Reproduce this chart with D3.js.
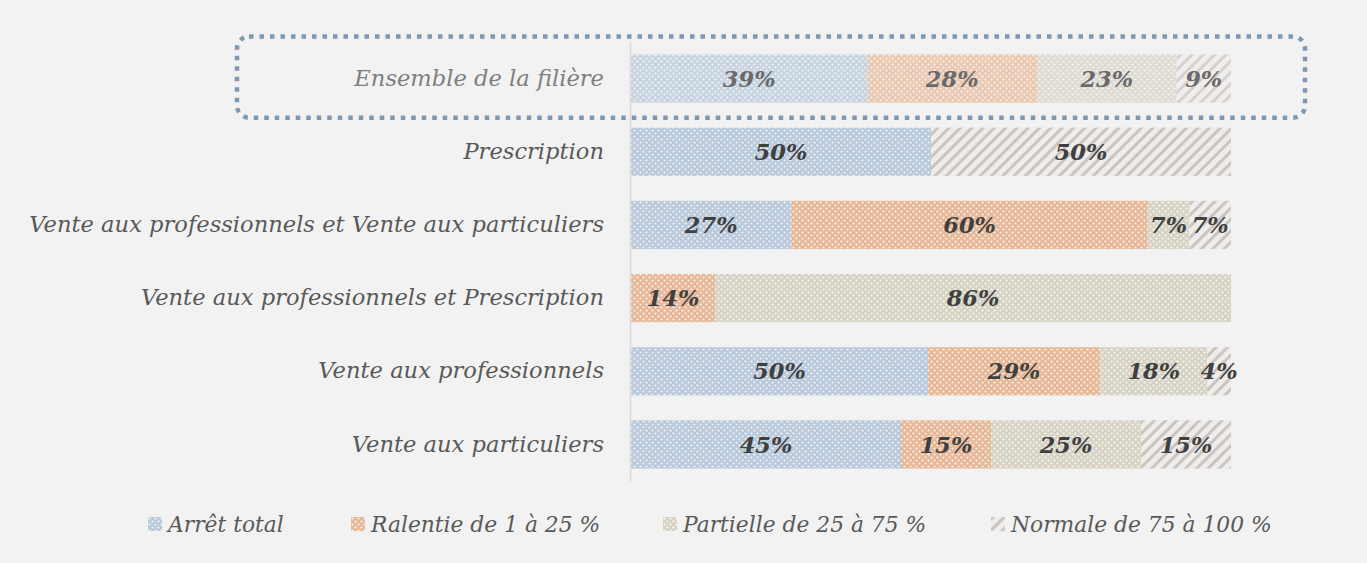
<!DOCTYPE html>
<html>
<head>
<meta charset="utf-8">
<script src="https://cdn.jsdelivr.net/npm/d3@7/dist/d3.min.js"></script>
<style>
  html, body { margin: 0; padding: 0; background: #f2f2f2; }
  svg { display: block; }
  .cat text { font-family: "DejaVu Serif", serif; font-style: italic; }
</style>
</head>
<body>
<svg id="chart" width="1367" height="563"></svg>
<script>
// categories, top to bottom
var categories = [
    'Ensemble de la filière',
    'Prescription',
    'Vente aux professionnels et Vente aux particuliers',
    'Vente aux professionnels et Prescription',
    'Vente aux professionnels',
    'Vente aux particuliers'
];

var seriesNames = ['Arrêt total', 'Ralentie de 1 à 25 %', 'Partielle de 25 à 75 %', 'Normale de 75 à 100 %'];

// percentages, one array per series
var arretTotal = [39, 50, 27, 0, 50, 45];
var ralentie   = [28, 0, 60, 14, 29, 15];
var partielle  = [23, 0, 7, 86, 18, 25];
var normale    = [9, 50, 7, 0, 4, 15];

var seriesKeys = ['arret', 'ralentie', 'partielle', 'normale'];

var rows = categories.map(function(c, i) {
    return {
        cat: c,
        arret: arretTotal[i],
        ralentie: ralentie[i],
        partielle: partielle[i],
        normale: normale[i]
    };
});

var svg = d3.select('svg#chart');
var defs = svg.append('defs');

// fill patterns: dotted grids + diagonal stripes
var dotColors = { arret: '#b9c9db', ralentie: '#e7b898', partielle: '#d6d3c5' };
Object.keys(dotColors).forEach(function(k) {
    var p = defs.append('pattern')
        .attr('id', 'pat-' + k)
        .attr('patternUnits', 'userSpaceOnUse')
        .attr('width', 6).attr('height', 6);
    p.append('rect').attr('width', 6).attr('height', 6).attr('fill', dotColors[k]);
    p.append('circle').attr('cx', 1.5).attr('cy', 1.5).attr('r', 1.1).attr('fill', '#fff').attr('opacity', 0.8);
    p.append('circle').attr('cx', 4.5).attr('cy', 4.5).attr('r', 1.1).attr('fill', '#fff').attr('opacity', 0.8);
});
var stripe = defs.append('pattern')
    .attr('id', 'pat-normale')
    .attr('patternUnits', 'userSpaceOnUse')
    .attr('width', 8).attr('height', 8)
    .attr('patternTransform', 'rotate(45)');
stripe.append('rect').attr('width', 8).attr('height', 8).attr('fill', '#efedeb');
stripe.append('rect').attr('width', 3).attr('height', 8).attr('fill', '#cbc4c0');

var x = d3.scaleLinear().domain([0, 1]).range([631, 1231]);
var y = d3.scaleBand().domain(categories).range([42, 481])
    .paddingInner(0.34).paddingOuter(0.17);

var stack = d3.stack().keys(seriesKeys).offset(d3.stackOffsetExpand);
var stacked = stack(rows);

// highlight box round the first row
svg.append('rect')
    .attr('x', 237).attr('y', y(categories[0]) - 18)
    .attr('width', 1305 - 237).attr('height', y.bandwidth() + 33)
    .attr('rx', 12)
    .attr('fill', 'none')
    .attr('stroke', '#7f98b0')
    .attr('stroke-width', 4.5)
    .attr('stroke-dasharray', '4.5 6');

var layer = svg.append('g').selectAll('g.layer')
    .data(stacked)
    .enter().append('g')
        .attr('class', 'layer')
        .attr('fill', function(d) { return 'url(#pat-' + d.key + ')'; });

layer.selectAll('rect')
    .data(function(d) { return d; })
    .enter().append('rect')
        .attr('x', function(d) { return x(d[0]); })
        .attr('y', function(d) { return y(d.data.cat); })
        .attr('width', function(d) { return x(d[1]) - x(d[0]); })
        .attr('height', y.bandwidth())
        .attr('opacity', function(d) { return d.data.cat === categories[0] ? 0.72 : 1; });

// value labels
layer.selectAll('text')
    .data(function(d) { return d.filter(function(v) { return v.data[d.key] > 0; }).map(function(v) { v.key = d.key; return v; }); })
    .enter().append('text')
        .attr('x', function(d) { return (x(d[0]) + x(d[1])) / 2; })
        .attr('y', function(d) { return y(d.data.cat) + y.bandwidth() / 2; })
        .attr('dy', '0.36em')
        .attr('text-anchor', 'middle')
        .attr('fill', function(d) { return d.data.cat === categories[0] ? '#6a6a6a' : '#404040'; })
        .style('font-family', '"DejaVu Serif", serif')
        .style('font-style', 'italic')
        .style('font-weight', 'bold')
        .style('font-size', '22.5px')
        .text(function(d) { return d.data[d.key] + '%'; });

// category axis
var axis = svg.append('g')
    .attr('class', 'cat')
    .attr('transform', 'translate(630,0)')
    .call(d3.axisLeft(y).tickSize(0).tickSizeOuter(0).tickPadding(26));
axis.select('.domain').attr('stroke', '#d9d9d9').attr('stroke-width', 1.5);
axis.selectAll('.tick text')
    .style('font-size', '22.6px')
    .attr('fill', function(d) { return d === categories[0] ? '#7f7f7f' : '#595959'; });

// legend
var legendX = [148, 351, 663, 991];
var legend = svg.append('g').selectAll('g')
    .data(seriesKeys)
    .enter().append('g')
        .attr('transform', function(d, i) { return 'translate(' + legendX[i] + ',517)'; });
legend.append('rect')
    .attr('width', 14).attr('height', 14)
    .attr('fill', function(d) { return 'url(#pat-' + d + ')'; });
legend.append('text')
    .attr('x', 20).attr('y', 7).attr('dy', '0.36em')
    .attr('fill', '#595959')
    .style('font-family', '"DejaVu Serif", serif')
    .style('font-style', 'italic')
    .style('font-size', '21.8px')
    .text(function(d, i) { return seriesNames[i]; });
</script>
</body>
</html>
